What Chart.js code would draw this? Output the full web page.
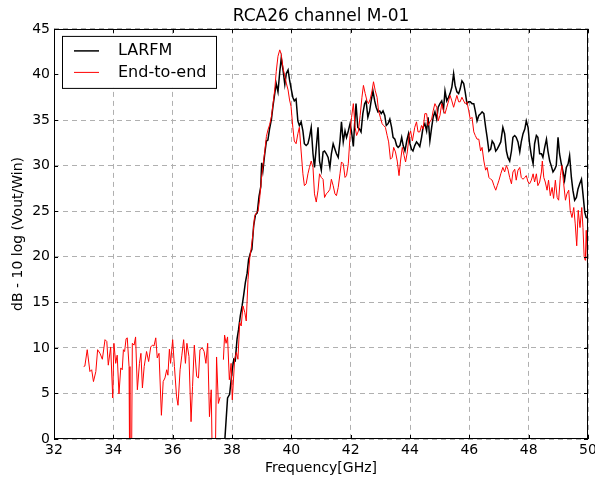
<!DOCTYPE html>
<html>
<head>
<meta charset="utf-8">
<script src="https://cdn.jsdelivr.net/npm/chart.js@4.4.0/dist/chart.umd.min.js"></script>
<style>
  html, body { margin: 0; padding: 0; background: #fff; }
  #wrap { width: 595px; height: 477px; }
</style>
</head>
<body>
<div id="wrap"><canvas id="chart" width="595" height="477"></canvas></div>
<script>
// Axis ticks
const xTicks = [32, 34, 36, 38, 40, 42, 44, 46, 48, 50];
const yTicks = [0, 5, 10, 15, 20, 25, 30, 35, 40, 45];

// LARFM (black)
const larfmFreq = [
  37.70, 37.85, 37.92, 38.00, 38.06, 38.11, 38.17, 38.22, 38.28, 38.34, 38.39, 38.45, 38.51, 38.56, 38.62, 38.67,
  38.73, 38.79, 38.85, 38.91, 38.97, 39.00, 39.04, 39.10, 39.16, 39.21, 39.27, 39.33, 39.38, 39.44, 39.49, 39.55,
  39.61, 39.66, 39.72, 39.78, 39.83, 39.89, 39.94, 39.99, 40.05, 40.10, 40.16, 40.22, 40.27, 40.33, 40.39, 40.44,
  40.50, 40.56, 40.61, 40.67, 40.73, 40.78, 40.84, 40.90, 40.95, 41.01, 41.07, 41.12, 41.18, 41.24, 41.30, 41.35,
  41.41, 41.47, 41.52, 41.58, 41.64, 41.69, 41.75, 41.81, 41.86, 41.92, 41.98, 42.03, 42.09, 42.13, 42.18, 42.24,
  42.30, 42.35, 42.41, 42.47, 42.52, 42.58, 42.64, 42.69, 42.75, 42.81, 42.86, 42.92, 42.98, 43.03, 43.09, 43.15,
  43.20, 43.26, 43.32, 43.38, 43.43, 43.49, 43.55, 43.60, 43.66, 43.72, 43.77, 43.83, 43.89, 43.95, 44.00, 44.05,
  44.10, 44.16, 44.22, 44.27, 44.33, 44.39, 44.44, 44.50, 44.56, 44.61, 44.67, 44.73, 44.78, 44.84, 44.90, 44.95,
  45.01, 45.07, 45.13, 45.18, 45.24, 45.30, 45.35, 45.41, 45.47, 45.52, 45.58, 45.64, 45.69, 45.75, 45.81, 45.86,
  45.92, 45.98, 46.03, 46.09, 46.15, 46.20, 46.26, 46.32, 46.38, 46.43, 46.49, 46.55, 46.60, 46.66, 46.72, 46.77,
  46.83, 46.89, 46.94, 47.00, 47.06, 47.13, 47.19, 47.25, 47.30, 47.36, 47.42, 47.47, 47.53, 47.58, 47.64, 47.70,
  47.75, 47.81, 47.87, 47.92, 47.98, 48.03, 48.09, 48.15, 48.20, 48.26, 48.31, 48.37, 48.43, 48.48, 48.54, 48.60,
  48.65, 48.71, 48.76, 48.82, 48.88, 48.93, 48.99, 49.04, 49.10, 49.16, 49.21, 49.27, 49.33, 49.38, 49.44, 49.49,
  49.55, 49.61, 49.66, 49.72, 49.78, 49.83, 49.89, 49.94, 50.00
];
const larfmDb = [
  -3, 4.5, 4.9, 7.4, 8.75, 8.6, 10.95, 12.0, 13.5, 14.6, 15.7, 17.15, 18.2, 19.7, 20.4, 20.8,
  23.4, 24.6, 24.8, 26.6, 27.7, 30.3, 29.4, 31.2, 32.7, 32.8, 34.1, 35.1, 36.5, 37.9, 39.0, 38.1,
  40.3, 41.8, 40.5, 38.9, 40.1, 40.5, 39.4, 38.5, 37.5, 37.1, 37.3, 34.9, 34.4, 34.8, 33.8, 32.4,
  32.2, 32.4, 33.1, 34.2, 31.3, 29.8, 32.0, 34.2, 30.5, 29.5, 31.5, 31.6, 31.3, 30.9, 29.8, 31.3,
  32.4, 31.8, 31.3, 30.9, 32.7, 34.8, 32.6, 33.8, 33.1, 33.8, 34.6, 33.7, 32.1, 34.4, 36.8, 34.2,
  34.0, 33.7, 35.7, 36.8, 37.1, 35.3, 36.0, 37.1, 38.2, 37.1, 36.4, 35.9, 36.0, 35.7, 36.0, 35.5,
  34.4, 34.6, 35.1, 34.2, 33.1, 32.9, 32.2, 32.0, 32.2, 33.1, 32.2, 31.6, 32.7, 33.5, 32.4, 31.8,
  31.6, 32.2, 32.6, 32.4, 32.1, 33.1, 34.2, 34.6, 33.8, 35.3, 32.7, 34.2, 35.3, 35.9, 35.1, 36.4,
  36.8, 37.1, 36.2, 38.2, 37.1, 37.5, 37.9, 38.6, 40.1, 38.8, 38.1, 37.9, 38.4, 39.3, 39.0, 38.1,
  36.8, 37.0, 37.0, 36.8, 36.8, 36.0, 34.9, 35.5, 35.7, 35.9, 35.7, 34.2, 33.1, 31.6, 31.8, 32.7,
  32.4, 31.6, 31.8, 32.2, 32.6, 34.2, 33.5, 31.6, 30.9, 30.5, 31.6, 33.1, 33.3, 33.1, 32.6, 31.5,
  32.6, 33.5, 34.0, 34.9, 34.2, 32.4, 31.1, 30.2, 32.4, 33.3, 33.1, 31.3, 31.3, 30.9, 32.0, 32.9,
  31.6, 30.5, 30.0, 29.3, 29.6, 30.0, 33.1, 31.3, 30.2, 29.3, 28.4, 29.8, 30.2, 31.1, 28.7, 27.3,
  26.2, 26.5, 27.4, 28.0, 28.5, 26.9, 24.9, 24.3, 24.2
];

// End-to-end (red); null marks the missing sample near 37.65 GHz
const e2eFreq = [
  33.00, 33.04, 33.12, 33.21, 33.27, 33.33, 33.41, 33.47, 33.55, 33.63, 33.72, 33.78, 33.83, 33.91, 33.98, 34.02,
  34.08, 34.13, 34.19, 34.25, 34.30, 34.34, 34.38, 34.43, 34.47, 34.53, 34.56, 34.60, 34.64, 34.70, 34.75, 34.81,
  34.88, 34.93, 34.98, 35.04, 35.12, 35.19, 35.26, 35.32, 35.37, 35.43, 35.48, 35.54, 35.62, 35.68, 35.74, 35.80,
  35.84, 35.89, 35.93, 36.00, 36.06, 36.13, 36.18, 36.25, 36.31, 36.37, 36.43, 36.48, 36.55, 36.62, 36.67, 36.73,
  36.81, 36.87, 36.92, 37.00, 37.06, 37.12, 37.18, 37.24, 37.30, 37.37, 37.41, 37.48, 37.54, 37.60, 37.65, 37.71,
  37.75, 37.80, 37.85, 37.91, 37.97, 38.01, 38.09, 38.15, 38.20, 38.26, 38.31, 38.37, 38.43, 38.48, 38.54, 38.60,
  38.65, 38.71, 38.76, 38.82, 38.88, 38.93, 38.99, 39.04, 39.10, 39.16, 39.21, 39.27, 39.33, 39.38, 39.44, 39.49,
  39.55, 39.61, 39.66, 39.72, 39.78, 39.83, 39.89, 39.94, 39.99, 40.05, 40.10, 40.16, 40.22, 40.27, 40.33, 40.39,
  40.44, 40.50, 40.56, 40.61, 40.67, 40.73, 40.78, 40.84, 40.90, 40.95, 41.01, 41.07, 41.12, 41.18, 41.24, 41.30,
  41.35, 41.41, 41.47, 41.52, 41.58, 41.64, 41.69, 41.75, 41.81, 41.86, 41.92, 41.98, 42.03, 42.09, 42.15, 42.20,
  42.26, 42.32, 42.38, 42.43, 42.49, 42.55, 42.60, 42.66, 42.72, 42.77, 42.83, 42.89, 42.94, 43.00, 43.06, 43.11,
  43.17, 43.23, 43.28, 43.34, 43.40, 43.45, 43.51, 43.57, 43.63, 43.68, 43.74, 43.80, 43.85, 43.91, 43.97, 44.02,
  44.08, 44.16, 44.22, 44.27, 44.33, 44.39, 44.44, 44.50, 44.56, 44.61, 44.67, 44.73, 44.78, 44.84, 44.90, 44.95,
  45.01, 45.07, 45.13, 45.18, 45.24, 45.30, 45.35, 45.41, 45.47, 45.52, 45.58, 45.64, 45.69, 45.75, 45.81, 45.86,
  45.92, 45.98, 46.03, 46.09, 46.15, 46.20, 46.26, 46.32, 46.38, 46.43, 46.49, 46.55, 46.60, 46.66, 46.72, 46.77,
  46.83, 46.89, 46.94, 47.00, 47.06, 47.13, 47.19, 47.25, 47.30, 47.36, 47.42, 47.47, 47.53, 47.58, 47.64, 47.70,
  47.75, 47.81, 47.87, 47.92, 47.98, 48.03, 48.09, 48.15, 48.20, 48.26, 48.31, 48.37, 48.43, 48.46, 48.51, 48.56,
  48.62, 48.67, 48.73, 48.79, 48.84, 48.90, 48.96, 49.01, 49.07, 49.12, 49.18, 49.24, 49.29, 49.35, 49.40, 49.46,
  49.52, 49.57, 49.62, 49.67, 49.73, 49.79, 49.83, 49.87, 49.91, 49.94, 49.98, 50.00
];
const e2eDb = [
  7.95, 8.0, 9.8, 7.4, 7.6, 6.3, 7.4, 9.8, 9.4, 8.75, 10.9, 10.7, 8.1, 10.1, 4.5, 10.5,
  8.3, 9.2, 4.95, 7.8, 7.6, 9.8, 9.6, 11.0, 11.1, 7.95, -10, -10, 10.5, 10.3, 11.2, 5.4,
  8.3, 9.4, 5.6, 7.95, 9.6, 8.5, 10.1, 10.3, 10.2, 11.1, 8.9, 9.4, 2.6, 6.3, 6.7, 7.6,
  7.0, 9.85, 8.3, 10.9, 7.95, 4.7, 3.7, 7.6, 9.2, 10.9, 8.3, 10.5, 9.05, 1.9, 5.75, 10.3,
  6.85, 6.7, 9.8, 10.0, 9.6, 8.3, 10.5, 2.45, 5.4, -10, -10, 9.0, 3.9, 4.6, null, 8.7,
  11.4, 10.5, 11.2, 6.5, 8.3, 4.3, 8.75, 9.5, 8.75, 12.8, 12.4, 14.6, 13.9, 12.95, 17.5, 19.9,
  21.0, 22.6, 24.4, 24.8, 25.0, 26.3, 28.5, 29.9, 31.4, 33.2, 33.9, 34.5, 35.4, 36.7, 38.3, 40.3,
  42.0, 42.7, 42.2, 40.7, 39.8, 39.05, 38.3, 37.2, 36.5, 34.2, 32.7, 32.4, 33.5, 34.2, 31.6, 29.1,
  27.8, 28.0, 29.1, 29.8, 30.5, 29.8, 26.9, 26.0, 27.3, 29.1, 28.7, 28.5, 26.5, 26.9, 27.1, 27.4,
  28.5, 27.8, 26.9, 26.7, 27.6, 29.1, 30.4, 30.2, 28.7, 28.9, 30.2, 33.3, 35.3, 36.8, 34.2, 33.3,
  33.8, 35.5, 37.5, 38.8, 37.9, 37.1, 36.8, 37.3, 38.2, 39.2, 38.2, 37.5, 36.0, 35.3, 34.6, 34.4,
  34.2, 33.3, 32.6, 30.7, 30.9, 32.0, 31.5, 30.5, 28.9, 30.5, 32.0, 31.1, 30.4, 31.5, 33.3, 33.8,
  32.7, 34.2, 34.8, 33.7, 33.7, 34.4, 34.0, 35.7, 35.7, 34.4, 34.8, 35.1, 36.0, 36.8, 36.4, 34.9,
  35.5, 36.8, 36.0, 35.7, 36.4, 37.1, 37.7, 37.1, 36.4, 37.0, 37.7, 37.0, 37.0, 37.5, 37.1, 36.8,
  37.0, 36.0, 35.1, 35.3, 33.7, 33.3, 32.9, 32.9, 31.6, 32.0, 30.5, 29.5, 29.8, 28.7, 28.5, 28.4,
  27.8, 27.3, 27.8, 28.4, 29.1, 29.8, 29.3, 30.0, 29.6, 28.7, 28.0, 29.3, 29.6, 28.4, 29.5, 29.8,
  28.7, 28.5, 28.7, 28.9, 28.2, 28.0, 28.4, 29.1, 28.2, 29.1, 27.8, 28.2, 29.3, 30.5, 28.7, 28.2,
  27.3, 28.4, 26.7, 27.6, 26.4, 28.4, 26.5, 26.2, 28.9, 30.0, 28.0, 26.2, 26.9, 27.3, 25.1, 24.3,
  25.4, 23.6, 21.2, 25.1, 23.2, 25.4, 23.2, 20.0, 19.6, 22.9, 19.6, 17.4
];

const FONT = 'DejaVu Sans';

const toPoints = (xs, ys) => xs.map((f, i) => ({ x: f, y: ys[i] }));

// Frame, inward tick marks and the boxed legend inside the plot
const framePlugin = {
  id: 'frame',
  afterDraw(chart) {
    const { ctx, chartArea: a, scales: { x, y } } = chart;
    ctx.save();
    ctx.strokeStyle = '#000';
    ctx.lineWidth = 1;
    ctx.beginPath();
    xTicks.forEach(v => {
      const px = Math.round(x.getPixelForValue(v)) + 0.5;
      ctx.moveTo(px, a.bottom); ctx.lineTo(px, a.bottom - 4);
      ctx.moveTo(px, a.top); ctx.lineTo(px, a.top + 4);
    });
    yTicks.forEach(v => {
      const py = Math.round(y.getPixelForValue(v)) + 0.5;
      ctx.moveTo(a.left, py); ctx.lineTo(a.left + 4, py);
      ctx.moveTo(a.right, py); ctx.lineTo(a.right - 4, py);
    });
    ctx.stroke();
    ctx.strokeRect(Math.round(a.left) + 0.5, Math.round(a.top) + 0.5,
                   Math.round(a.width) - 1, Math.round(a.height) - 1);

    // legend
    const lx = a.left + 8, ly = a.top + 7, lw = 154, lh = 52;
    ctx.fillStyle = '#fff';
    ctx.fillRect(lx, ly, lw, lh);
    ctx.strokeRect(lx + 0.5, ly + 0.5, lw, lh);
    const items = chart.data.datasets;
    ctx.font = '16px "' + FONT + '"';
    ctx.textBaseline = 'middle';
    items.forEach((ds, i) => {
      const cy = ly + 15 + i * 21.5;
      ctx.strokeStyle = ds.borderColor;
      ctx.lineWidth = ds.borderWidth;
      ctx.beginPath();
      ctx.moveTo(lx + 12, cy); ctx.lineTo(lx + 37, cy);
      ctx.stroke();
      ctx.fillStyle = '#000';
      ctx.fillText(ds.label, lx + 56, cy);
    });
    ctx.restore();
  }
};

new Chart(document.getElementById('chart'), {
  type: 'line',
  data: {
    datasets: [
      {
        label: 'LARFM',
        data: toPoints(larfmFreq, larfmDb),
        borderColor: '#000000',
        borderWidth: 1.5,
        pointRadius: 0,
        tension: 0,
        order: 1
      },
      {
        label: 'End-to-end',
        data: toPoints(e2eFreq, e2eDb),
        borderColor: '#ff0000',
        borderWidth: 1,
        pointRadius: 0,
        tension: 0,
        spanGaps: false,
        order: 0
      }
    ]
  },
  options: {
    responsive: false,
    animation: false,
    layout: { padding: 0 },
    plugins: {
      legend: { display: false },
      tooltip: { enabled: false },
      title: {
        display: true,
        text: 'RCA26 channel M-01',
        fullSize: false,
        color: '#000',
        font: { family: FONT, size: 17, weight: 'normal' },
        padding: { top: 6, bottom: 2.5 }
      }
    },
    scales: {
      x: {
        type: 'linear',
        min: 32,
        max: 50,
        afterBuildTicks: s => { s.ticks = xTicks.map(v => ({ value: v })); },
        afterFit: s => { s.height = 38; s.paddingRight = 7; },
        ticks: { color: '#000', font: { family: FONT, size: 14 }, padding: 3, maxRotation: 0 },
        grid: { color: '#b0b0b0', lineWidth: 1, drawTicks: false },
        border: { display: false, dash: [5, 4] },
        title: {
          display: true,
          text: 'Frequency[GHz]',
          color: '#000',
          font: { family: FONT, size: 14 },
          padding: { top: 0, bottom: 0 }
        }
      },
      y: {
        min: 0,
        max: 45,
        afterBuildTicks: s => { s.ticks = yTicks.map(v => ({ value: v })); },
        afterFit: s => { s.width = 54; },
        ticks: { color: '#000', font: { family: FONT, size: 14 }, padding: 4 },
        grid: { color: '#b0b0b0', lineWidth: 1, drawTicks: false },
        border: { display: false, dash: [5, 4] },
        title: {
          display: true,
          text: 'dB - 10 log (Vout/Win)',
          color: '#000',
          font: { family: FONT, size: 14 },
          padding: { top: 10, bottom: 0 }
        }
      }
    }
  },
  plugins: [framePlugin]
});
</script>
</body>
</html>
